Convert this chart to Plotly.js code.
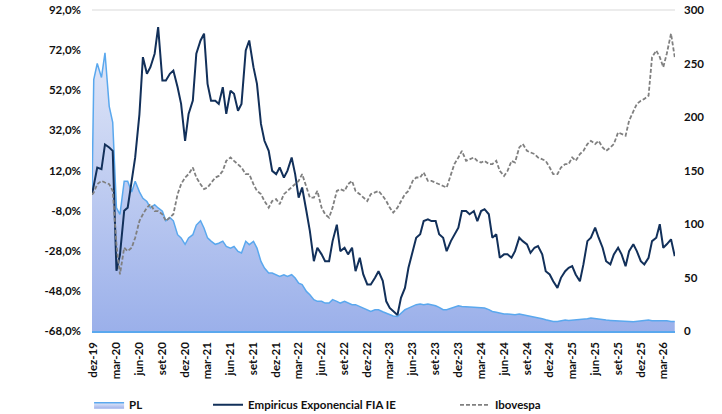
<!DOCTYPE html>
<html><head><meta charset="utf-8">
<script src="https://cdn.plot.ly/plotly-3.0.1.min.js"></script>
<style>html,body{margin:0;padding:0;background:#fff}#chart{width:722px;height:414px}</style>
</head><body><div id="chart"></div>
<script>
const dates = [
'2019-11-24','2019-12-01','2019-12-15',
'2020-01-01','2020-01-15','2020-02-01','2020-02-15','2020-03-01','2020-03-15','2020-04-01','2020-04-15','2020-05-01','2020-05-15','2020-06-01','2020-06-15','2020-07-01','2020-07-15','2020-08-01','2020-08-15','2020-09-01','2020-09-15','2020-10-01','2020-10-15','2020-11-01','2020-11-15','2020-12-01','2020-12-15',
'2021-01-01','2021-01-15','2021-02-01','2021-02-15','2021-03-01','2021-03-15','2021-04-01','2021-04-15','2021-05-01','2021-05-15','2021-06-01','2021-06-15','2021-07-01','2021-07-15','2021-08-01','2021-08-15','2021-09-01','2021-09-15','2021-10-01','2021-10-15','2021-11-01','2021-11-15','2021-12-01','2021-12-15',
'2022-01-01','2022-01-15','2022-02-01','2022-02-15','2022-03-01','2022-03-15','2022-04-01','2022-04-15','2022-05-01','2022-05-15','2022-06-01','2022-06-15','2022-07-01','2022-07-15','2022-08-01','2022-08-15','2022-09-01','2022-09-15','2022-10-01','2022-10-15','2022-11-01','2022-11-15','2022-12-01','2022-12-15',
'2023-01-01','2023-01-15','2023-02-01','2023-02-15','2023-03-01','2023-03-15','2023-04-01','2023-04-15','2023-05-01','2023-05-15','2023-06-01','2023-06-15','2023-07-01','2023-07-15','2023-08-01','2023-08-15','2023-09-01','2023-09-15','2023-10-01','2023-10-15','2023-11-01','2023-11-15','2023-12-01','2023-12-15',
'2024-01-01','2024-01-15','2024-02-01','2024-02-15','2024-03-01','2024-03-15','2024-04-01','2024-04-15','2024-05-01','2024-05-15','2024-06-01','2024-06-15','2024-07-01','2024-07-15','2024-08-01','2024-08-15','2024-09-01','2024-09-15','2024-10-01','2024-10-15','2024-11-01','2024-11-15','2024-12-01','2024-12-15',
'2025-01-01','2025-01-15','2025-02-01','2025-02-15','2025-03-01','2025-03-15','2025-04-01','2025-04-15','2025-05-01','2025-05-15','2025-06-01','2025-06-15','2025-07-01','2025-07-15','2025-08-01','2025-08-15','2025-09-01','2025-09-15','2025-10-01','2025-10-15','2025-11-01','2025-11-15','2025-12-01','2025-12-15',
'2026-01-01','2026-01-15','2026-02-01','2026-02-15','2026-03-01','2026-03-15','2026-04-01','2026-04-16'
];

const empiricus = [
0, 5.2, 13.5,
12.7, 25.0, 23.5, 21.8, -38, -30, -8, -6.5, 6.8, 18.5, 40, 68.5, 60.2, 63.5, 70.2, 83.5, 56.8, 56.8, 60.2, 61.8, 53.5, 45.2, 26.8, 40.2,
46.8, 70.2, 76.8, 80.2, 55.2, 46.8, 46.8, 45.2, 53.5, 40.2, 51.8, 50.2, 41.8, 45.2, 71.8, 76.8, 63.5, 55.2, 35.2, 26.8, 21.8, 11.8, 10.2, 13.5,
8.5, 11.8, 18.5, 10.2, -1.5, 3.5, -8.2, -18.2, -33.2, -26.5, -29.8, -33.2, -33.2, -23.2, -15, -28.2, -26.5, -29.8, -26.5, -38.2, -31.5, -39.8, -44.8, -44.8,
-41.5, -38.2, -43, -53.2, -56.5, -58.2, -60, -51.5, -46.5, -36.5, -28.2, -21.5, -19.8, -13.2, -12.3, -13.2, -13.2, -19.8, -21.5, -28.2, -23.2, -19.8, -16.5, -8.2,
-8.2, -9.8, -8.2, -13.2, -8.2, -7.3, -9.8, -21.5, -19.8, -31.5, -29.8, -29.8, -31.5, -28.2, -21.5, -23.2, -24.8, -29, -26.5, -25.7, -29.8, -38.2, -39.8, -43.2,
-46.5, -41.5, -38.2, -36.5, -35.7, -39.8, -43.2, -34.8, -23.2, -21.5, -16.5, -21.5, -26.5, -33.2, -34.8, -29.8, -26.5, -29.8, -35.7, -28.2, -24.8, -28.2, -33.2, -34.8,
-31.5, -23.2, -21.5, -14.8, -26.5, -24.8, -22.3, -30.7
];

const ibovespa = [
0, 1.0, 5.2,
6.8, 6.0, 5.2, 1.8, -25, -39.8, -26.5, -28.2, -26.5, -21.5, -13.2, -9.8, -6.5, -4.8, -8.2, -8.2, -9.8, -13.2, -11.5, -9.8, 0.2, 5.2, 8.5, 10.2,
13.5, 8.5, 5.2, 2.7, 3.5, 6.0, 8.5, 9.3, 11.8, 16.8, 18.5, 16.8, 15.2, 13.5, 10.2, 10.2, 5.2, 1.8, 0.2, -3.2, -6.5, -3.2, -2.3, -4.8,
0.2, 1.8, 3.5, 5.2, 6.8, 10.2, 3.5, -1.5, -1.5, 1.8, -6.5, -9.8, -11.5, -6.5, 1.8, 2.7, 1.8, 5.2, 6.8, 1.8, 0.2, -1.5, -3.2, 0.2,
1.0, 1.8, -0.7, -3.2, -6.5, -9.0, -6.5, -3.2, 0.2, 1.8, 6.8, 8.5, 8.5, 11.0, 6.8, 6.8, 6.0, 5.2, 4.3, 3.5, 10.2, 15.2, 18.5, 21.8,
16.8, 17.7, 18.5, 16.8, 16.0, 16.8, 15.2, 15.2, 16.8, 11.8, 9.3, 11.8, 16.8, 16.0, 23.5, 25.2, 21.8, 21.0, 20.2, 18.5, 17.7, 16.8, 13.5, 10.2,
10.2, 13.5, 15.2, 15.2, 18.5, 16.8, 20.2, 21.8, 25.2, 26.8, 25.2, 26.8, 23.5, 21.8, 23.5, 25.2, 31.0, 30.2, 29.3, 36.8, 41.8, 45.2, 46.8, 47.7,
49.3, 68.5, 71.8, 68.5, 63.5, 70.2, 80.2, 68.5
];

const pl = [
130, 235, 250,
237, 260, 210, 195, 115, 109, 140, 140, 130, 140, 130, 124, 121, 115, 118, 115, 112, 103, 106, 103, 90, 87, 81, 87,
90, 99, 103, 96, 87, 84, 81, 82, 84, 79, 77.5, 79, 74.4, 73, 83.8, 80.7, 83.8, 77.5, 65, 58.8, 54.2, 54.2, 52.6, 51,
52.6, 51, 52.6, 49.5, 44.8, 43.3, 37, 33.9, 29.3, 27.7, 27.7, 26.1, 26.1, 29.3, 27.7, 26.1, 27.7, 26.1, 24.6, 24.6, 23, 21.4, 19.9, 18.3,
19.9, 19.9, 18, 16.8, 15.3, 14, 13.5, 16.8, 19.9, 21.4, 23, 24.6, 25.2, 24.6, 25.2, 24.6, 23.6, 22.1, 19.9, 19.9, 21.4, 22.1, 23.6, 23,
23, 22.4, 22.1, 21.8, 22, 21.5, 20, 18.3, 17.5, 16.5, 16, 15.9, 15.5, 15.3, 15.9, 15.3, 14.6, 13.7, 12.7, 12.1, 11.5, 10.5, 9.6, 8.9,
8.9, 9.6, 10.2, 9.9, 10.2, 10.5, 10.2, 10.5, 11.5, 12.1, 11.5, 10.8, 10.5, 10.2, 9.9, 9.6, 9.6, 8.9, 8.9, 8.9, 8.6, 8.9, 9.6, 9.9,
10.2, 9.6, 9.6, 9.9, 9.6, 9.6, 8.9, 8.9
];

const tickDates = ['2019-12-01','2020-03-01','2020-06-01','2020-09-01','2020-12-01','2021-03-01','2021-06-01','2021-09-01','2021-12-01','2022-03-01','2022-06-01','2022-09-01','2022-12-01','2023-03-01','2023-06-01','2023-09-01','2023-12-01','2024-03-01','2024-06-01','2024-09-01','2024-12-01','2025-03-01','2025-06-01','2025-09-01','2025-12-01','2026-03-01'];
const tickLabels = ['dez-19','mar-20','jun-20','set-20','dez-20','mar-21','jun-21','set-21','dez-21','mar-22','jun-22','set-22','dez-22','mar-23','jun-23','set-23','dez-23','mar-24','jun-24','set-24','dez-24','mar-25','jun-25','set-25','dez-25','mar-26'];
const leftTickVals = [-68, -48, -28, -8, 12, 32, 52, 72, 92];
const leftTickLabels = ['-68,0%','-48,0%','-28,0%','-8,0%','12,0%','32,0%','52,0%','72,0%','92,0%'];
const rightTickVals = [0, 50, 100, 150, 200, 250, 300];

const font = {family: 'Lato, "Open Sans", sans-serif', size: 11.5, color: '#111111', weight: 'bold'};

const traces = [
  {x: dates, y: pl, name: 'PL', type: 'scatter', mode: 'lines', yaxis: 'y', fill: 'tozeroy',
   line: {color: '#5aa8ee', width: 1.5},
   fillgradient: {type: 'vertical', start: 0, stop: 270, colorscale: [[0, '#9bb0ea'], [1, '#e2e8f8']]},
   legend: 'legend'},
  {x: dates, y: empiricus, name: 'Empiricus Exponencial FIA IE', type: 'scatter', mode: 'lines', yaxis: 'y2',
   line: {color: '#12305a', width: 2}, legend: 'legend2'},
  {x: dates, y: ibovespa, name: 'Ibovespa', type: 'scatter', mode: 'lines', yaxis: 'y2',
   line: {color: '#808080', width: 1.8, dash: '4px,2px'}, legend: 'legend3'}
];

const legendBase = {y: -0.23, xanchor: 'left', yanchor: 'middle', orientation: 'h', font: font, bgcolor: 'rgba(0,0,0,0)'};

const layout = {
  width: 722, height: 414,
  margin: {l: 92, r: 47, t: 10, b: 83, autoexpand: false},
  font: font,
  paper_bgcolor: '#ffffff', plot_bgcolor: '#ffffff',
  showlegend: true,
  xaxis: {type: 'date', range: ['2019-11-24', '2026-04-17'], tickvals: tickDates, ticktext: tickLabels,
          tickangle: -90, showgrid: false, zeroline: false, showline: true, linecolor: '#5aa8ee', linewidth: 1.5,
          ticks: '', ticklabelstandoff: 5, tickfont: font, automargin: false},
  yaxis: {range: [0, 300], tickvals: rightTickVals, side: 'right', showgrid: false, zeroline: false,
          ticks: '', ticklabelstandoff: 8, tickfont: font, automargin: false},
  yaxis2: {range: [-68, 92], tickvals: leftTickVals, ticktext: leftTickLabels, side: 'left', overlaying: 'y',
           showgrid: false, zeroline: false, ticks: '', ticklabelstandoff: 10, tickfont: font, automargin: false},
  legend: Object.assign({}, legendBase, {x: -0.005}),
  legend2: Object.assign({}, legendBase, {x: 0.199}),
  legend3: Object.assign({}, legendBase, {x: 0.6226}),
  shapes: [{type: 'line', xref: 'paper', yref: 'paper', x0: 0, x1: 1, y0: 1, y1: 1, line: {color: '#d9d9d9', width: 1}}]
};

Plotly.newPlot('chart', traces, layout, {displayModeBar: false, staticPlot: true});
</script>
</body></html>
